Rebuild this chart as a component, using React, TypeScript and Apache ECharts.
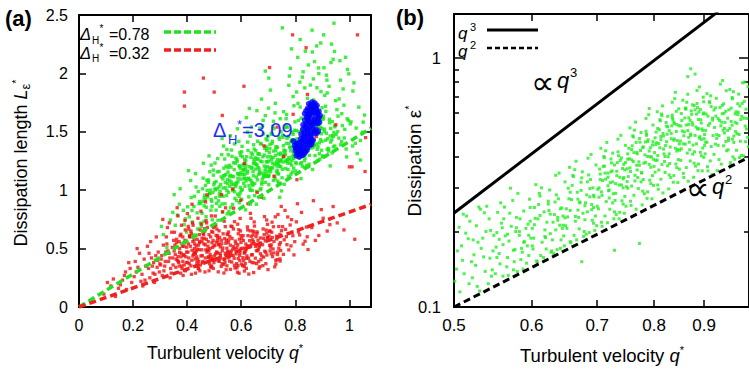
import React, { useEffect, useRef } from "react";
import * as echarts from "echarts";

// ---------- axis ticks ----------
const aXTicks = [0, 0.2, 0.4, 0.6, 0.8, 1];
const aYTicks = [0, 0.5, 1, 1.5, 2, 2.5];
const bXTicks = [0.5, 0.6, 0.7, 0.8, 0.9, 1.0];
const bXLabels = [0.5, 0.6, 0.7, 0.8, 0.9];
const bYMajor = [0.1, 1];
const bYMinor = [0.2, 0.3, 0.4, 0.5, 0.6, 0.7, 0.8, 0.9];
const aXMax = 1.08;
const aYMax = 2.5;
const bXMin = 0.5;
const bXMax = 1.0;
const bYMin = 0.1;
const bYMax = 1.502;

// ---------- lines ----------
const fitGreenA = [[0, 0], [1.08, 1.53]];
const fitRedA = [[0, 0], [1.08, 0.878]];
const lineQ3 = [[0.5, 0.2385], [0.93, 1.535]];
const lineQ2 = [[0.5, 0.1], [1.0, 0.4]];

// ---------- scatter points (q*1000, value*1000) ----------
const greenA = [
  312,620, 338,745, 325,510, 347,810, 305,690,
  356,700, 371,880, 393,755, 379,545, 352,962, 386,828, 398,641, 364,787, 374,1012, 389,705,
  402,858, 419,728, 427,948, 413,1083, 437,806, 446,903, 423,617, 431,1142, 408,772, 441,988, 425,861, 415,937, 449,718, 433,1027, 418,826, 439,668, 405,1168, 444,884,
  491,905, 457,1012, 470,773, 484,1158, 463,866, 499,1047, 452,691, 476,942, 488,829, 460,1231, 495,980, 473,1086, 455,802, 481,1294, 467,918, 493,746, 459,1103, 486,1001, 471,854, 497,1172, 465,957, 478,1067, 450,889, 489,1215, 462,733, 483,971,
  537,1126, 509,887, 524,1049, 546,954, 503,1232, 531,813, 518,1161, 542,1020, 514,742, 528,1305, 549,1089, 506,935, 535,1378, 521,862, 544,1206, 511,1012, 533,948, 526,1114, 548,797, 501,1064, 539,1267, 516,909, 529,1443, 543,1135, 507,829, 522,991, 536,1189, 550,1058, 513,1271, 540,884, 519,968, 532,1097, 547,1349, 504,1003,
  581,1060, 556,1213, 592,947, 567,1121, 598,1298, 553,982, 575,1396, 588,1072, 561,851, 596,1187, 570,1009, 584,1264, 558,1117, 593,893, 564,1344, 579,1031, 551,1155, 587,966, 572,1235, 599,1095, 560,1467, 583,911, 566,1048, 595,1322, 574,1176, 554,818, 589,1139, 569,997, 580,1275, 597,1024, 562,1198, 577,930, 591,1418, 557,1083, 585,1246, 568,878, 594,1132, 573,1051, 552,1303, 586,1526,
  627,1103, 604,1287, 641,998, 615,1185, 648,1352, 609,1060, 633,1463, 622,1147, 602,922, 645,1231, 618,1079, 637,1319, 611,1168, 649,954, 624,1412, 631,1094, 606,1214, 643,1043, 620,1287, 613,1136, 638,1541, 600,997, 629,1201, 646,1389, 617,1252, 634,881, 608,1178, 640,1066, 625,1340, 612,1104, 647,1267, 632,1012, 603,1375, 619,1621, 644,1158, 628,943, 610,1224, 636,1081, 623,1497, 605,1135, 642,1308, 614,1034, 630,1700, 639,1196, 616,832,
  688,1167, 654,1338, 676,1052, 693,1244, 661,1419, 683,1113, 669,1531, 697,1202, 657,990, 680,1286, 665,1135, 691,1374, 652,1228, 673,1015, 699,1462, 686,1141, 659,1265, 678,1096, 694,1340, 663,1193, 681,1598, 650,1057, 671,1250, 696,1429, 667,1309, 684,931, 655,1221, 690,1118, 674,1395, 698,1162, 662,1312, 677,1068, 692,1440, 658,1681, 685,1207, 670,1003, 653,1277, 695,1131, 679,1553, 666,1182, 687,1358, 660,1089, 675,1780, 697,1242, 656,880, 682,1483, 668,1147, 689,1638,
  738,1229, 706,1391, 724,1117, 745,1305, 713,1478, 733,1171, 719,1590, 748,1259, 702,1048, 728,1342, 716,1192, 741,1436, 709,1287, 735,1078, 721,1527, 746,1203, 704,1322, 731,1156, 714,1401, 743,1247, 725,1662, 700,1117, 737,1311, 711,1488, 729,1367, 749,994, 718,1279, 707,1176, 740,1454, 722,1221, 734,1368, 703,1128, 747,1502, 726,1744, 712,1263, 739,1061, 720,1335, 705,1191, 744,1612, 730,1240, 715,1418, 736,1143, 708,1857, 727,1298, 742,939, 717,1547, 732,1207, 701,1703,
  788,1287, 754,1453, 773,1178, 796,1364, 762,1536, 781,1231, 768,1648, 793,1316, 751,1106, 777,1401, 765,1249, 790,1497, 758,1344, 784,1137, 799,1585, 770,1262, 756,1381, 786,1215, 775,1459, 763,1305, 795,1723, 752,1179, 779,1370, 767,1547, 791,1427, 759,1051, 783,1337, 771,1232, 797,1513, 755,1281, 787,1428, 764,1186, 778,1977, 792,1802, 760,1322, 774,1119, 798,1393, 769,1252, 782,2043, 757,1672, 789,1156, 776,1898, 753,1471, 794,1273, 766,1612,
  838,1347, 804,1511, 823,1236, 846,1421, 812,1597, 831,1290, 818,1712, 843,1374, 801,1164, 827,1458, 815,1309, 840,1556, 808,1402, 834,1195, 849,1648, 820,1321, 806,1440, 836,1274, 825,1519, 813,1363, 845,1786, 802,1238, 829,2014, 817,1925, 841,1485, 809,2137, 833,1395, 821,1099, 847,1577, 805,1841, 837,2190, 814,1281, 826,1968, 842,1212, 810,1743, 830,1451, 848,2072, 803,1332, 822,1617, 835,1876,
  889,1405, 854,1572, 873,1296, 896,1483, 862,1655, 881,1350, 868,1772, 893,1434, 851,1223, 877,1518, 865,1367, 890,1612, 858,1461, 884,1254, 899,1706, 870,1380, 856,1900, 886,2047, 875,1577, 863,2183, 895,1844, 852,1298, 879,2235, 867,1953, 891,1266, 859,1745, 883,1630, 871,2101, 898,1527, 857,1422, 887,1998, 864,1178, 880,1877, 894,2260, 869,1549, 853,1683,
  938,1468, 904,1634, 923,1357, 946,1543, 912,1719, 931,1412, 918,1833, 943,1494, 901,1286, 927,1578, 915,1985, 940,2121, 908,1523, 934,2251, 949,1767, 920,1440, 906,2048, 936,1319, 925,1889, 913,1675, 945,2188, 902,1606, 929,1208, 917,1942, 941,1371, 909,1812, 932,2093, 947,1555,
  983,1521, 954,1690, 971,1417, 996,1599, 962,1781, 988,1353, 967,1942, 993,2034, 951,1478, 977,1867, 965,2109, 990,1285, 958,1634, 980,1728, 998,1996, 961,1446, 974,1553, 986,2138,
  1006,1585, 1022,1402, 1035,1711, 1013,1849, 1048,1497, 1029,1314, 1056,1643, 1017,1919, 1041,1258,
  752,2390, 862,2370, 943,2430, 905,2330, 818,2290, 786,2210, 702,1960, 689,2020,
];

const greenACore = [
  458,905, 503,1012, 521,948, 479,1087, 536,1124, 492,863, 547,996, 468,1041, 512,1157, 529,882, 484,973, 541,1066, 497,1129, 463,936, 518,1028, 551,1193, 474,998, 507,1074, 533,1019, 489,921,
  563,1069, 587,1142, 604,1005, 578,1231, 621,1098, 596,975, 639,1187, 571,1116, 613,1263, 557,1034, 629,1041, 592,1209, 645,1123, 583,1062, 608,1178, 566,1290, 634,998, 599,1151, 617,1215, 575,987, 648,1245, 588,1101, 624,1164, 559,1127, 642,1052, 602,1329, 580,1046, 611,1099, 636,1281, 594,1204,
  653,1181, 677,1243, 698,1119, 664,1310, 712,1189, 689,1067, 734,1262, 668,1158, 706,1355, 741,1204, 683,1127, 659,1214, 725,1097, 697,1286, 716,1233, 671,1401, 747,1318, 691,1192, 703,1249, 738,1139, 662,1268, 729,1371, 685,1301, 719,1084, 674,1146, 744,1257, 709,1158, 656,1113, 694,1362, 731,1227,
  758,1295, 782,1364, 803,1227, 769,1446, 821,1316, 794,1189, 839,1398, 776,1279, 812,1502, 847,1344, 788,1254, 763,1337, 826,1206, 801,1423, 817,1371, 772,1538, 845,1465, 797,1309, 808,1388, 834,1252, 767,1401, 829,1489, 785,1423, 819,1228, 779,1263, 843,1401, 806,1296, 755,1241, 792,1478, 831,1347,
  856,1406, 878,1483, 897,1342, 866,1565, 912,1428, 889,1312, 931,1529, 871,1389, 904,1617, 941,1461, 884,1372, 861,1449, 923,1335, 893,1540, 915,1488, 874,1658, 937,1588, 899,1419, 907,1503, 946,1379, 868,1512, 926,1607, 886,1541, 918,1351, 879,1396, 935,1432, 902,1294, 858,1360, 891,1597, 929,1464,
  957,1502, 981,1447, 1003,1568, 968,1389, 1025,1532, 992,1611, 1041,1426, 972,1655, 1012,1378, 1051,1583,
];

const redA = [
  92,110, 118,180, 135,90, 127,240, 146,160, 105,210,
  153,190, 168,270, 176,150, 189,330, 161,230, 195,210, 184,380, 172,300,
  204,260, 218,340, 229,220, 241,410, 212,300, 236,180, 247,350, 224,460, 208,390, 233,280, 244,230, 215,500,
  257,330, 268,420, 281,280, 293,470, 262,250, 276,380, 289,340, 253,520, 284,440, 297,300, 265,560, 279,210, 291,400, 271,350, 259,460, 286,600, 299,370, 274,290,
  304,410, 317,350, 329,480, 341,290, 312,530, 336,420, 348,360, 323,600, 308,270, 333,460, 345,510, 319,390, 327,680, 339,330, 306,440, 350,570, 314,310, 331,390, 343,640, 321,470, 310,750, 337,250, 325,540, 347,420, 302,360, 334,720,
  356,450, 369,380, 382,520, 394,310, 361,580, 377,430, 389,360, 353,640, 372,500, 385,270, 398,470, 364,400, 379,700, 391,550, 358,340, 374,610, 387,440, 397,380, 366,780, 381,330, 352,480, 370,560, 393,660, 359,410, 376,290, 388,520, 363,850, 395,430, 371,350, 384,600, 355,530, 378,460, 392,740, 367,390,
  403,470, 417,400, 428,540, 441,330, 409,610, 424,450, 436,380, 448,660, 412,520, 431,290, 444,490, 406,420, 420,720, 437,580, 449,360, 415,630, 426,470, 439,410, 401,800, 433,350, 446,550, 411,600, 422,700, 435,430, 447,310, 405,540, 418,880, 430,460, 443,390, 414,650, 427,500, 440,760, 408,370, 421,560, 434,480, 445,620, 416,280, 429,410, 442,530, 404,690,
  454,490, 467,420, 478,560, 491,350, 459,630, 473,470, 486,400, 498,680, 462,540, 481,310, 494,510, 456,440, 470,740, 487,600, 499,380, 465,650, 476,490, 489,430, 451,820, 483,370, 496,570, 461,620, 472,720, 485,450, 497,330, 455,560, 468,900, 480,480, 493,410, 464,670, 477,520, 490,780, 458,390, 471,580, 484,500, 495,640, 466,300, 479,430, 492,550, 453,710, 474,960, 488,340,
  532,505, 507,612, 549,447, 519,391, 541,688, 503,529, 526,347, 545,571, 512,463, 537,734, 524,418, 508,556, 548,625, 515,301, 530,482, 542,849, 501,437, 520,596, 535,364, 547,503, 510,667, 528,541, 539,412, 504,779, 522,458, 544,319, 513,588, 533,627, 550,476, 517,533, 527,962, 540,383, 506,702, 523,514, 546,438, 514,565, 536,291, 509,471, 531,815, 543,546, 518,652, 502,403,
  571,518, 594,442, 558,603, 583,371, 566,689, 599,497, 552,552, 577,334, 589,627, 561,461, 596,758, 574,417, 554,575, 586,298, 569,496, 591,661, 557,392, 580,544, 598,913, 563,479, 575,731, 588,355, 551,620, 570,442, 593,581, 560,322, 584,507, 597,651, 556,430, 572,846, 587,533, 565,385, 599,612, 553,471, 578,564, 592,289, 562,692, 581,455, 568,1010, 595,398,
  623,524, 607,611, 641,448, 615,372, 649,693, 603,503, 631,568, 619,331, 644,617, 611,462, 636,759, 627,418, 602,585, 646,295, 618,491, 633,652, 609,399, 639,541, 625,884, 614,476, 648,728, 605,354, 637,605, 621,437, 642,575, 612,308, 629,517, 647,642, 606,423, 634,802, 617,539, 640,381, 624,660, 613,466, 645,558, 628,282,
  672,541, 658,628, 691,469, 664,390, 697,707, 653,519, 683,588, 669,345, 695,633, 661,482, 686,774, 676,437, 655,602, 699,320, 667,514, 681,668, 652,418, 689,566, 674,940, 663,495, 694,745, 657,371, 685,620, 671,456, 698,592, 666,332, 679,533, 692,659,
  721,561, 746,484, 707,649, 733,406, 714,726, 741,535, 703,607, 728,368, 749,653, 718,497, 736,792, 711,455, 743,621, 724,344, 705,528, 739,689, 716,431, 731,583, 748,861, 709,512, 726,772, 744,394, 713,640, 735,471,
  767,602, 784,523, 753,688, 795,446, 772,771, 759,575, 788,641, 776,489, 762,827, 798,559, 781,702, 756,451, 791,610, 769,534, 786,748, 764,664,
  812,642, 836,563, 804,729, 847,492, 823,810, 816,617, 841,684, 829,538, 808,884, 844,601,
  861,680, 887,612, 903,760, 874,570, 928,705, 896,834, 867,910, 918,650,
  612,1230, 684,1380, 733,1540, 792,1650, 845,1820, 757,1290, 878,1460, 721,1120, 659,980, 806,1090,
  460,1960, 390,1840, 500,1840, 390,1720, 530,1640, 790,2330, 1030,2330, 840,2220, 610,1890, 705,2050, 950,1560, 1000,1200, 1060,1450,
  1010,1200, 1058,1160, 1020,580, 980,660, 955,720, 940,860,
];

const redACore = [
  372,468, 398,512, 421,437, 446,561, 469,489, 493,402, 517,538, 541,462, 566,587, 589,415, 613,503, 638,446, 662,571, 687,478, 711,532, 734,449,
  384,391, 409,603, 433,524, 457,377, 481,619, 505,455, 529,371, 553,642, 577,497, 601,368, 625,611, 649,541, 673,405, 697,598, 721,463, 745,551,
  361,553, 388,448, 414,352, 439,495, 463,587, 488,348, 512,612, 536,408, 560,529, 584,336, 608,569, 632,392, 656,482, 680,354, 704,651, 728,399,
  377,623, 402,382, 426,574, 451,437, 475,681, 499,523, 523,441, 547,353, 571,668, 595,463, 619,417, 643,651, 667,529, 691,371, 715,596, 739,503,
  366,432, 392,571, 418,486, 443,328, 467,532, 491,647, 515,396, 539,586, 563,441, 587,709, 611,346, 635,524, 659,643, 683,427, 707,481, 731,606,
  380,351, 406,667, 430,459, 455,589, 479,424, 503,693, 527,571, 551,421, 575,357, 599,552, 623,686, 647,378, 671,591, 695,445, 719,687, 743,412,
];

const blueA = [
  850,1740, 862,1755, 872,1745, 880,1725, 858,1715, 868,1720,
  840,1680, 852,1690, 864,1695, 876,1690, 887,1675, 846,1650, 858,1660, 870,1665, 882,1655, 891,1640,
  835,1600, 847,1610, 859,1615, 871,1605, 883,1600, 889,1580, 841,1570, 853,1580, 865,1575, 877,1570,
  828,1520, 840,1530, 852,1535, 864,1530, 876,1520, 885,1505, 834,1490, 846,1495, 858,1490, 870,1485,
  820,1440, 832,1450, 844,1455, 856,1450, 866,1430, 814,1405, 826,1410, 838,1415, 850,1410, 860,1395,
  808,1370, 820,1365, 832,1370, 844,1360, 800,1340, 812,1330, 824,1320, 836,1325,
  804,1295, 815,1285, 826,1300, 797,1380, 793,1420,
  856,1725, 868,1735, 876,1708, 846,1700, 835,1655, 864,1678, 880,1672, 852,1640, 876,1640, 887,1620,
  842,1625, 829,1560, 847,1595, 871,1590, 883,1575, 859,1555, 837,1545, 822,1480, 846,1515, 870,1505,
  880,1490, 834,1465, 856,1470, 826,1430, 850,1430, 862,1420, 818,1385, 838,1395, 854,1385, 814,1350,
  828,1345, 842,1340, 808,1315, 818,1305, 832,1310, 802,1360, 806,1400,
];

const greenB = [
  503,142, 517,188, 528,121, 511,236, 536,159, 545,203, 522,131, 533,172, 507,115, 540,254, 526,147, 514,198, 548,168, 531,116, 519,221, 538,139, 509,176, 543,226, 524,162, 501,127, 535,189, 547,141, 515,232, 529,182, 542,124, 506,209, 521,152, 537,239, 549,194, 512,136, 527,212, 544,157, 518,124, 532,247, 504,168, 539,201, 523,186, 546,133, 510,154, 530,252,
  556,164, 572,211, 588,142, 563,252, 594,176, 579,229, 551,136, 583,194, 567,158, 597,271, 575,141, 559,217, 590,183, 566,145, 581,286, 553,199, 596,161, 570,238, 586,172, 561,133, 592,207, 576,152, 558,262, 584,226, 568,134, 599,189, 574,268, 552,174, 589,243, 564,193, 580,139, 595,215, 557,149, 571,300, 587,166, 562,226, 593,150, 578,201, 554,240, 585,155, 569,184, 598,251, 577,170, 560,208,
  603,189, 618,241, 632,164, 611,286, 645,207, 624,266, 607,153, 638,229, 615,182, 649,318, 628,166, 604,251, 641,213, 621,171, 635,338, 609,226, 647,193, 626,295, 613,161, 639,272, 601,207, 630,186, 644,250, 617,158, 633,235, 648,176, 606,310, 622,219, 637,170, 612,279, 646,232, 627,197, 602,171, 640,345, 619,204, 634,264, 608,152, 643,186, 625,244, 614,301, 650,212, 629,168, 605,227, 636,282, 620,190, 642,172, 610,258, 631,219,
  653,230, 668,289, 682,196, 661,338, 694,251, 674,317, 657,183, 688,277, 665,221, 698,372, 678,192, 654,300, 691,258, 671,206, 685,396, 659,270, 697,232, 676,349, 663,194, 689,325, 651,248, 680,224, 693,301, 667,186, 683,282, 699,212, 656,364, 672,264, 687,199, 662,334, 695,277, 677,238, 652,207, 690,410, 669,245, 684,318, 658,181, 692,223, 674,294, 664,356, 700,254, 679,201, 655,272, 686,339, 670,229, 696,203, 660,308, 681,262, 666,385, 694,217, 675,330, 657,244,
  703,276, 718,345, 732,235, 711,402, 744,301, 724,379, 707,219, 738,332, 715,265, 748,446, 728,226, 704,358, 741,309, 721,247, 735,472, 709,322, 747,278, 726,415, 713,232, 739,388, 701,297, 730,268, 743,360, 717,218, 733,337, 749,254, 706,434, 722,316, 737,226, 712,398, 745,331, 727,285, 702,248, 740,489, 719,293, 734,380, 708,211, 742,267, 725,352, 714,424, 750,304, 729,241, 705,325, 736,405, 720,274, 746,238, 710,367, 731,313, 716,458, 744,259, 723,393, 707,290, 738,240, 713,345, 748,380, 726,262, 735,420, 718,307,
  753,334, 768,418, 782,285, 761,487, 794,364, 774,459, 757,266, 788,402, 765,321, 798,538, 778,257, 754,434, 791,374, 771,299, 785,572, 759,390, 797,337, 776,502, 763,281, 789,470, 751,359, 780,325, 793,436, 767,247, 783,408, 799,308, 756,524, 772,383, 787,273, 762,482, 795,401, 777,345, 752,300, 790,592, 769,355, 784,460, 758,256, 792,323, 775,425, 764,513, 800,367, 779,292, 755,394, 786,489, 770,331, 796,272, 760,444, 781,378, 766,553, 794,313, 773,475, 757,350, 788,290, 763,417, 798,461, 776,318, 785,508, 768,371, 752,412, 791,627, 780,440, 759,306,
  803,388, 818,486, 832,331, 811,565, 844,423, 824,533, 807,309, 838,467, 815,373, 848,625, 828,298, 804,504, 841,434, 821,347, 835,664, 809,453, 847,391, 826,583, 813,326, 839,545, 801,417, 830,377, 843,507, 817,287, 833,474, 849,358, 806,608, 822,445, 837,317, 812,559, 845,466, 827,401, 802,348, 840,687, 819,412, 834,534, 808,297, 842,375, 825,494, 814,596, 850,426, 829,339, 805,457, 836,567, 820,384, 846,316, 810,515, 831,439, 816,642, 844,363, 823,551, 807,406, 838,337, 813,484, 848,535, 826,369, 835,590, 818,431, 802,478, 841,728, 829,511, 809,355,
  853,432, 868,541, 882,368, 861,629, 894,471, 874,594, 857,344, 888,520, 865,415, 898,696, 878,332, 854,561, 891,483, 871,386, 885,740, 859,505, 897,435, 876,649, 863,363, 889,607, 851,464, 880,420, 893,565, 867,320, 883,528, 899,399, 856,677, 872,495, 887,353, 862,623, 895,519, 877,447, 852,388, 890,765, 869,459, 884,595, 858,331, 892,418, 875,550, 864,664, 900,474, 879,378, 855,509, 886,632, 870,428, 896,352, 860,574, 881,489, 866,715, 894,405, 873,613, 857,452, 888,375, 863,538, 898,596, 876,411, 885,657, 868,480, 872,905, 881,862, 866,842,
  903,459, 918,574, 932,391, 911,668, 944,500, 924,631, 907,366, 938,552, 915,441, 948,739, 928,353, 904,596, 941,513, 921,410, 935,786, 909,536, 947,462, 926,689, 913,386, 939,645, 901,493, 930,446, 943,600, 917,340, 933,561, 949,424, 906,719, 922,526, 937,375, 912,661, 945,551, 927,475, 902,412, 940,812, 919,488, 934,632, 908,352, 942,444, 925,584, 914,705,
  953,477, 968,596, 982,406, 961,694, 994,519, 974,655, 957,380, 988,573, 965,458, 998,767, 978,398, 954,619, 991,533, 971,426, 985,795, 959,556, 997,480, 976,716, 963,401, 989,670, 951,512, 980,463, 993,623, 967,392, 983,583, 999,440, 956,747, 972,546, 987,405, 962,686, 995,572, 977,493, 952,428, 990,800, 969,507, 984,657, 958,371, 992,461, 975,606, 964,732,
  773,180, 729,169, 675,152,
];

const greenBCore = [
  561,178, 583,201, 604,214, 627,236, 649,228, 672,262, 694,281, 575,169, 598,221, 619,192, 642,248, 665,231, 688,299, 556,187, 579,208,
  601,176, 624,259, 646,213, 669,271, 691,246, 567,196, 589,182, 612,233, 635,204, 657,289, 680,255, 553,158, 596,194, 638,223, 684,241,
  703,301, 718,332, 731,286, 747,355, 712,368, 726,318, 741,397, 756,362, 769,412, 784,381, 797,447, 708,281, 723,349, 737,309, 752,392,
  765,338, 779,436, 793,401, 714,326, 729,372, 744,327, 759,429, 773,371, 788,462, 799,392, 705,342, 733,351, 762,384, 791,423, 777,347,
  751,319, 720,295, 786,495, 745,374, 767,458,
  803,449, 817,498, 829,412, 844,541, 858,487, 871,562, 886,519, 899,602, 811,436, 826,529, 839,473, 853,598, 866,511, 881,619, 894,548,
  807,521, 821,402, 835,577, 849,452, 862,628, 876,538, 890,477, 806,389, 833,498, 861,451, 888,566, 815,587, 843,611, 872,489, 897,512,
  824,461, 852,533, 879,644, 846,429, 868,575, 892,621, 813,470, 838,553, 884,452, 899,667,
  903,512, 918,563, 932,488, 947,611, 961,537, 974,592, 906,459, 921,618, 936,534, 951,573, 965,486, 979,641, 912,546, 927,492, 942,655,
  956,521, 970,608, 908,584, 924,451, 939,597, 953,466, 968,552, 915,638, 944,522, 972,497, 930,571, 959,629, 901,446, 962,472, 981,566,
];

const FONT = "'Liberation Sans', Arial, Helvetica, sans-serif";
const lg = Math.log10;

function pairs(flat: number[]): number[][] {
  const out: number[][] = [];
  for (let i = 0; i + 1 < flat.length; i += 2) out.push([flat[i] / 1000, flat[i + 1] / 1000]);
  return out;
}
function logPairs(pts: number[][]): number[][] {
  return pts.map(([x, y]) => [lg(x), lg(y)]);
}

function buildOption() {
  const axisLine = { show: true, onZero: false, lineStyle: { color: "#000", width: 2 } };
  const noSplit = { show: false };
  const tick = (vals: number[], len: number) => ({
    show: true, inside: true, length: len, customValues: vals,
    lineStyle: { color: "#000", width: 1.5 },
  });
  const labelA = (vals: number[], margin: number) => ({
    show: true, customValues: vals, margin, color: "#000", fontSize: 16, fontFamily: FONT,
  });
  const fmtB = (v: number) => String(Math.round(Math.pow(10, v) * 10) / 10);

  const xAxis: any[] = [
    { type: "value", gridIndex: 0, position: "bottom", min: 0, max: aXMax, axisLine, splitLine: noSplit,
      axisTick: tick(aXTicks, 7), axisLabel: labelA(aXTicks, 10) },
    { type: "value", gridIndex: 0, position: "top", min: 0, max: aXMax, axisLine, splitLine: noSplit,
      axisTick: tick(aXTicks, 7), axisLabel: { show: false } },
    { type: "value", gridIndex: 1, position: "bottom", min: lg(bXMin), max: lg(bXMax), axisLine, splitLine: noSplit,
      axisTick: tick(bXTicks.map(lg), 7),
      axisLabel: { show: true, customValues: bXLabels.map(lg), margin: 10, color: "#000", fontSize: 17, fontFamily: FONT, formatter: fmtB } },
    { type: "value", gridIndex: 1, position: "top", min: lg(bXMin), max: lg(bXMax), axisLine, splitLine: noSplit,
      axisTick: tick(bXTicks.map(lg), 7), axisLabel: { show: false } },
  ];
  const yAxis: any[] = [
    { type: "value", gridIndex: 0, position: "left", min: 0, max: aYMax, axisLine, splitLine: noSplit,
      axisTick: tick(aYTicks, 7), axisLabel: labelA(aYTicks, 11) },
    { type: "value", gridIndex: 0, position: "right", min: 0, max: aYMax, axisLine, splitLine: noSplit,
      axisTick: tick(aYTicks, 7), axisLabel: { show: false } },
    { type: "value", gridIndex: 1, position: "left", min: lg(bYMin), max: lg(bYMax), axisLine, splitLine: noSplit,
      axisTick: tick(bYMajor.map(lg), 10),
      axisLabel: { show: true, customValues: bYMajor.map(lg), margin: 13, color: "#000", fontSize: 16.5, fontFamily: FONT, formatter: fmtB } },
    { type: "value", gridIndex: 1, position: "left", min: lg(bYMin), max: lg(bYMax), axisLine: { show: false, onZero: false }, splitLine: noSplit,
      axisTick: tick(bYMinor.map(lg), 5), axisLabel: { show: false } },
    { type: "value", gridIndex: 1, position: "right", min: lg(bYMin), max: lg(bYMax), axisLine, splitLine: noSplit,
      axisTick: tick(bYMajor.map(lg), 10), axisLabel: { show: false } },
    { type: "value", gridIndex: 1, position: "right", min: lg(bYMin), max: lg(bYMax), axisLine: { show: false, onZero: false }, splitLine: noSplit,
      axisTick: tick(bYMinor.map(lg), 5), axisLabel: { show: false } },
  ];

  const series: any[] = [
    { type: "scatter", xAxisIndex: 0, yAxisIndex: 0, data: pairs(greenA).concat(pairs(greenACore)), symbol: "rect", symbolSize: 3.4,
      itemStyle: { color: "#14e614" }, z: 2 },
    { type: "scatter", xAxisIndex: 0, yAxisIndex: 0, data: pairs(redA).concat(pairs(redACore)), symbol: "rect", symbolSize: 3.3,
      itemStyle: { color: "#f01010" }, z: 3 },
    { type: "scatter", xAxisIndex: 0, yAxisIndex: 0, data: pairs(blueA), symbol: "circle", symbolSize: 6,
      itemStyle: { color: "#0000ff" }, z: 4 },
    { type: "line", xAxisIndex: 0, yAxisIndex: 0, data: fitGreenA, showSymbol: false, z: 5,
      lineStyle: { color: "#22e022", width: 3.5, type: [7, 4] } },
    { type: "line", xAxisIndex: 0, yAxisIndex: 0, data: fitRedA, showSymbol: false, z: 5,
      lineStyle: { color: "#ee2020", width: 3.5, type: [7, 4] } },
    { type: "scatter", xAxisIndex: 2, yAxisIndex: 2, data: logPairs(pairs(greenB).concat(pairs(greenBCore))), symbol: "rect", symbolSize: 3,
      itemStyle: { color: "#22ee22" }, z: 2 },
    { type: "line", xAxisIndex: 2, yAxisIndex: 2, data: logPairs(lineQ3), showSymbol: false, z: 5, clip: true,
      lineStyle: { color: "#000", width: 3 } },
    { type: "line", xAxisIndex: 2, yAxisIndex: 2, data: logPairs(lineQ2), showSymbol: false, z: 5, clip: true,
      lineStyle: { color: "#000", width: 3, type: [7, 4] } },
  ];

  const txt = (x: number, y: number, text: string, size: number, extra: any = {}, elExtra: any = {}) => ({
    type: "text", x, y, silent: true, z: 100,
    style: { text, fontSize: size, fontFamily: FONT, fill: "#000", align: "left", verticalAlign: "middle", ...extra },
    ...elExtra,
  });
  const seg = (x1: number, y1: number, x2: number, y2: number, stroke: string, w: number, dash?: number[]) => ({
    type: "line", silent: true, z: 100, shape: { x1, y1, x2, y2 },
    style: { stroke, lineWidth: w, lineDash: dash || null },
  });
  const PROP = "'DejaVu Sans', sans-serif";

  const graphic: any[] = [
    txt(5, 18, "(a)", 22, { fontWeight: "bold" }),
    txt(396, 17, "(b)", 22, { fontWeight: "bold" }),
    // x titles
    txt(225, 353, "Turbulent velocity {q|q}{s|*}", 17.6, {
      align: "center", lineHeight: 22,
      rich: { q: { fontStyle: "italic", fontSize: 17.6, fontFamily: FONT }, s: { fontSize: 11, fontFamily: FONT, verticalAlign: "top", lineHeight: 8 } },
    }),
    txt(602, 355, "Turbulent velocity {q|q}{s|*}", 18.5, {
      align: "center", lineHeight: 22,
      rich: { q: { fontStyle: "italic", fontSize: 18.5, fontFamily: FONT }, s: { fontSize: 11, fontFamily: FONT, verticalAlign: "top", lineHeight: 8 } },
    }),
    // y titles
    txt(21, 163, "Dissipation length {L|L}{e|ε}{s|*}", 18, {
      align: "center", lineHeight: 22,
      rich: {
        L: { fontStyle: "italic", fontSize: 18, fontFamily: FONT },
        e: { fontSize: 13, fontFamily: FONT, verticalAlign: "bottom", lineHeight: 10 },
        s: { fontSize: 11, fontFamily: FONT, verticalAlign: "top", lineHeight: 8 },
      },
    }, { rotation: Math.PI / 2 }),
    txt(414, 161, "Dissipation ε{s|*}", 19, {
      align: "center", lineHeight: 22,
      rich: { s: { fontSize: 11, fontFamily: FONT, verticalAlign: "top", lineHeight: 8 } },
    }, { rotation: Math.PI / 2 }),
    // legend (a)
    txt(80, 34, "Δ", 16.5, { fontStyle: "italic" }),
    txt(99.5, 28.5, "*", 10),
    txt(92, 40, "H", 10),
    txt(109, 34, "=0.78", 16),
    seg(164, 32, 216, 32, "#22e022", 3.3, [7, 3]),
    txt(80, 53, "Δ", 16.5, { fontStyle: "italic" }),
    txt(99.5, 47.5, "*", 10),
    txt(92, 58.5, "H", 10),
    txt(109, 53, "=0.32", 16),
    seg(164, 50, 216, 50, "#ee2020", 3.3, [7, 3]),
    // blue annotation
    txt(213, 130, "Δ", 20, { fill: "#1f2bff" }),
    txt(228, 139, "H", 13, { fill: "#1f2bff" }),
    txt(237, 124, "*", 13, { fill: "#1f2bff" }),
    txt(242, 130, "=3.09", 20, { fill: "#1f2bff" }),
    // legend (b)
    txt(458, 33, "q", 17, { fontStyle: "italic" }),
    txt(470, 27, "3", 11),
    seg(487, 30, 538, 30, "#000", 3),
    txt(458, 51, "q", 17, { fontStyle: "italic" }),
    txt(470, 45, "2", 11),
    seg(487, 48, 538, 48, "#000", 2.6, [5, 3]),
    // proportional annotations
    txt(531, 82, "∝", 33, { fontFamily: PROP, lineHeight: 14 }),
    txt(557, 80, "q", 22, { fontStyle: "italic", lineHeight: 16 }),
    txt(570, 72, "3", 13, { lineHeight: 9 }),
    txt(686, 188, "∝", 33, { fontFamily: PROP, lineHeight: 14 }),
    txt(712, 186, "q", 22, { fontStyle: "italic", lineHeight: 16 }),
    txt(725, 179, "2", 13, { lineHeight: 9 }),
  ];

  return {
    animation: false,
    backgroundColor: "#fff",
    textStyle: { fontFamily: FONT },
    grid: [
      { left: 79, top: 15, width: 292, height: 292, containLabel: false },
      { left: 454, top: 14, width: 296, height: 293, containLabel: false },
    ],
    xAxis,
    yAxis,
    series,
    graphic,
  };
}

export default function App() {
  const ref = useRef<HTMLDivElement>(null);
  useEffect(() => {
    document.body.style.margin = "0";
    if (!ref.current) return;
    const chart = echarts.init(ref.current, null, { renderer: "svg" });
    chart.setOption(buildOption() as any);
    return () => chart.dispose();
  }, []);
  return <div ref={ref} style={{ width: 749, height: 371 }} />;
}
